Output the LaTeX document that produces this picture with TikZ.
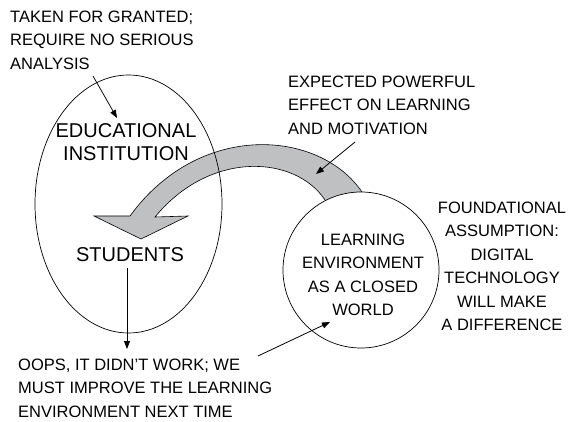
\documentclass[tikz,border=0pt]{standalone}
\usepackage{fontspec}
\setmainfont{Liberation Sans}
\usepackage{xcolor}
\usetikzlibrary{positioning,shapes,arrows.meta}
\definecolor{bandgray}{RGB}{191,192,194}

\begin{document}
\begin{tikzpicture}[x=1pt,y=-1pt]
\tikzstyle{every node}=[inner sep=0pt];
\tikzstyle{small}=[font=\fontsize{16.5}{23.5}\selectfont];
\tikzstyle{big}=[font=\fontsize{20}{23}\selectfont];
\tikzstyle{arr}=[line width=0.8pt,-{Triangle[length=8pt,width=6pt]}];

\useasboundingbox (0,0) rectangle (568,422);

% curved grey arrow
\draw[fill=bandgray,line width=0.6pt] (340,225) -- (372,210) -- (362,192)
  .. controls (320,130) and (200,120) .. (130,216) -- (94,216) -- (141,239)
  -- (188,216) -- (155,217) .. controls (210,150) and (295,155) .. (325,200) -- cycle;

\draw node[draw,ellipse,line width=0.7pt,minimum width=187pt,minimum height=258pt] (inst) at (128.5,204) {};
\draw node[draw,circle,fill=white,line width=0.7pt,minimum size=156pt] (world) at (361,270) {};

\draw node[small,align=left,anchor=west] (taken) at (10,40) {TAKEN FOR GRANTED;\\REQUIRE NO SERIOUS\\ANALYSIS};
\draw node[big,align=center] (educ) at (126,142.5) {EDUCATIONAL\\INSTITUTION};
\draw node[big] (stud) at (130,255) {STUDENTS};
\draw node[small,align=left,anchor=west] (expect) at (288,105) {EXPECTED POWERFUL\\EFFECT ON LEARNING\\AND MOTIVATION};
\draw node[small,align=center] (env) at (363,275) {LEARNING\\ENVIRONMENT\\AS A CLOSED\\WORLD};
\draw node[small,align=center] (found) at (502,266.5) {FOUNDATIONAL\\ASSUMPTION:\\DIGITAL\\TECHNOLOGY\\WILL MAKE\\A DIFFERENCE};
\draw node[small,align=left,anchor=west] (oops) at (18,388) {OOPS, IT DIDN'T WORK; WE\\MUST IMPROVE THE LEARNING\\ENVIRONMENT NEXT TIME};

\coordinate (t1) at (93,76);
\coordinate (t2) at (117,118);
\coordinate (s1) at (127,268);
\coordinate (s2) at (127,349);
\coordinate (o1) at (258,356);
\coordinate (o2) at (330,322);
\coordinate (e1) at (355,142);
\coordinate (e2) at (316,174);

\foreach \a/\b in {t1/t2,s1/s2,o1/o2,e1/e2}
  \draw[arr] (\a) -- (\b);
\end{tikzpicture}
\end{document}
